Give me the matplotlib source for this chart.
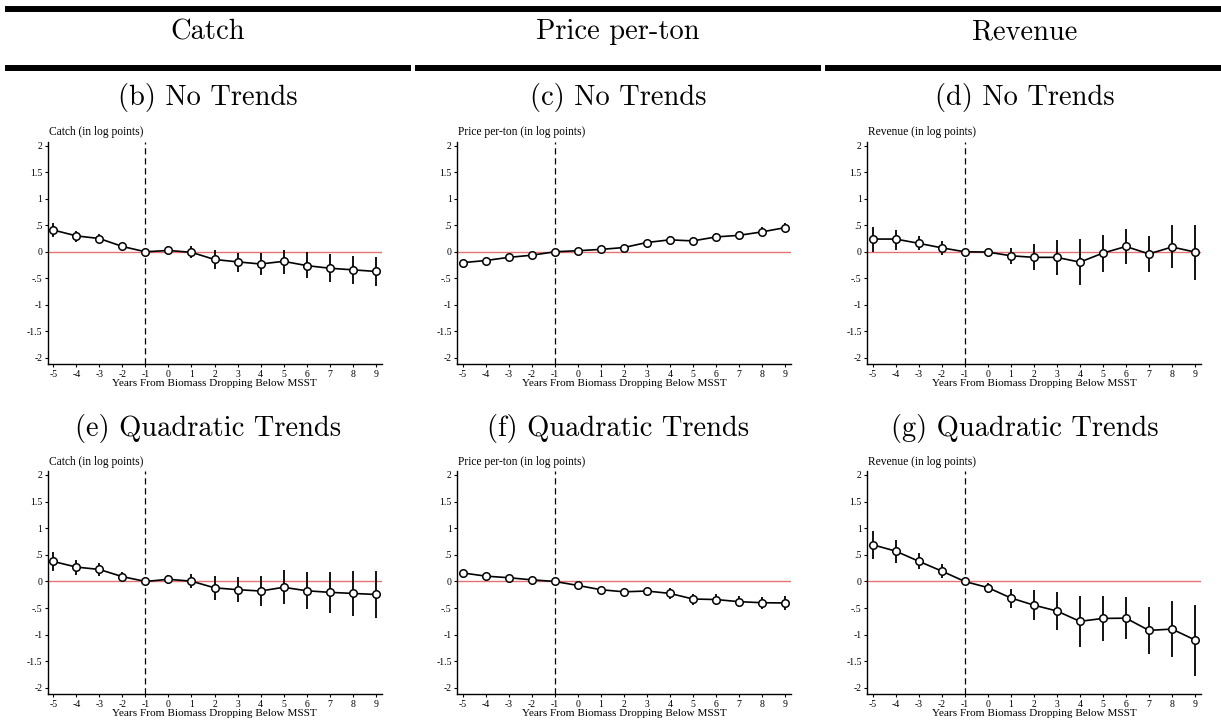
#!/usr/bin/env python
# Event-study panels: catch, price per-ton and revenue around biomass dropping below MSST

import matplotlib
matplotlib.use("Agg")
from matplotlib import pyplot as plt
from matplotlib.lines import Line2D

# event time
years = [-5, -4, -3, -2, -1, 0, 1, 2, 3, 4, 5, 6, 7, 8, 9]

# (b) catch, no trends
catch_nt = [0.41, 0.30, 0.25, 0.10, 0.0, 0.025, -0.01, -0.145, -0.19, -0.23, -0.18, -0.26, -0.31, -0.34, -0.37]
catch_nt_lo = [0.28, 0.19, 0.16, 0.025, 0.0, -0.05, -0.11, -0.32, -0.375, -0.44, -0.41, -0.49, -0.575, -0.61, -0.65]
catch_nt_hi = [0.54, 0.40, 0.34, 0.175, 0.0, 0.10, 0.10, 0.025, -0.02, -0.03, 0.04, -0.01, -0.05, -0.075, -0.09]

# (c) price per-ton, no trends
price_nt = [-0.205, -0.165, -0.105, -0.065, 0.0, 0.02, 0.045, 0.08, 0.175, 0.225, 0.205, 0.28, 0.31, 0.375, 0.455]
price_nt_lo = [-0.25, -0.215, -0.15, -0.105, 0.0, -0.01, 0.01, 0.03, 0.12, 0.155, 0.14, 0.21, 0.24, 0.29, 0.37]
price_nt_hi = [-0.16, -0.115, -0.06, -0.025, 0.0, 0.05, 0.08, 0.13, 0.23, 0.295, 0.27, 0.35, 0.38, 0.46, 0.54]

# (d) revenue, no trends
rev_nt = [0.24, 0.24, 0.16, 0.075, 0.0, -0.005, -0.075, -0.105, -0.105, -0.195, -0.025, 0.10, -0.04, 0.09, -0.005]
rev_nt_lo = [0.0, 0.04, 0.025, -0.06, 0.0, -0.04, -0.23, -0.35, -0.445, -0.625, -0.39, -0.225, -0.39, -0.31, -0.53]
rev_nt_hi = [0.47, 0.42, 0.30, 0.21, 0.0, 0.03, 0.08, 0.14, 0.225, 0.24, 0.325, 0.43, 0.30, 0.50, 0.505]

# (e) catch, quadratic trends
catch_qt = [0.375, 0.27, 0.225, 0.09, 0.0, 0.04, 0.005, -0.12, -0.155, -0.18, -0.11, -0.175, -0.205, -0.225, -0.245]
catch_qt_lo = [0.205, 0.13, 0.10, 0.005, 0.0, -0.055, -0.13, -0.345, -0.395, -0.47, -0.43, -0.52, -0.59, -0.645, -0.68]
catch_qt_hi = [0.545, 0.40, 0.345, 0.175, 0.0, 0.13, 0.145, 0.105, 0.08, 0.105, 0.21, 0.175, 0.175, 0.195, 0.195]

# (f) price per-ton, quadratic trends
price_qt = [0.16, 0.10, 0.07, 0.03, 0.0, -0.075, -0.155, -0.195, -0.18, -0.225, -0.33, -0.34, -0.38, -0.40, -0.405]
price_qt_lo = [0.12, 0.05, 0.03, -0.01, 0.0, -0.11, -0.2, -0.25, -0.235, -0.325, -0.44, -0.445, -0.48, -0.51, -0.54]
price_qt_hi = [0.20, 0.15, 0.11, 0.07, 0.0, -0.04, -0.11, -0.14, -0.125, -0.13, -0.23, -0.235, -0.28, -0.29, -0.275]

# (g) revenue, quadratic trends
rev_qt = [0.69, 0.57, 0.38, 0.195, 0.0, -0.115, -0.31, -0.445, -0.555, -0.75, -0.695, -0.69, -0.92, -0.895, -1.10]
rev_qt_lo = [0.425, 0.355, 0.225, 0.06, 0.0, -0.21, -0.49, -0.72, -0.905, -1.225, -1.115, -1.08, -1.355, -1.425, -1.77]
rev_qt_hi = [0.955, 0.775, 0.54, 0.325, 0.0, -0.03, -0.15, -0.17, -0.205, -0.275, -0.275, -0.295, -0.48, -0.365, -0.45]

column_titles = ['Catch', 'Price per-ton', 'Revenue']
ylabels = ['Catch (in log points)', 'Price per-ton (in log points)', 'Revenue (in log points)']
row_titles = [['(b) No Trends', '(c) No Trends', '(d) No Trends'],
              ['(e) Quadratic Trends', '(f) Quadratic Trends', '(g) Quadratic Trends']]
yticks = [2, 1.5, 1, 0.5, 0, -0.5, -1, -1.5, -2]
ytick_labels = ['2', '1.5', '1', '.5', '0', '-.5', '-1', '-1.5', '-2']
xlabel = 'Years From Biomass Dropping Below MSST'

panels = [[(catch_nt, catch_nt_lo, catch_nt_hi),
           (price_nt, price_nt_lo, price_nt_hi),
           (rev_nt, rev_nt_lo, rev_nt_hi)],
          [(catch_qt, catch_qt_lo, catch_qt_hi),
           (price_qt, price_qt_lo, price_qt_hi),
           (rev_qt, rev_qt_lo, rev_qt_hi)]]

SMALL = 'Liberation Serif'
BIG = 'cmr10'
W, H = 1221, 724

fig = plt.figure(figsize=(W / 100, H / 100), dpi=100)

# axes placement in pixels: left edge of each column, top/bottom of each row
col_left = [48, 457.3, 867.3]
ax_w = 333.7
row_top = [141.7, 471]
row_bot = [364, 694]

for r in range(2):
    for c in range(3):
        est, lo, hi = panels[r][c]
        ax = fig.add_axes([col_left[c] / W, 1 - row_bot[r] / H,
                           ax_w / W, (row_bot[r] - row_top[r]) / H])
        ax.axhline(0, color='#e57373', lw=1.0, zorder=1)
        ax.axvline(-1, color='black', lw=0.9, ls=(0, (5, 3)), zorder=1)
        yerr = [[e - l for e, l in zip(est, lo)], [h - e for e, h in zip(est, hi)]]
        ax.errorbar(years, est, yerr=yerr, fmt='none', ecolor='black',
                    elinewidth=1.3, capsize=0, zorder=2)
        ax.plot(years, est, color='black', lw=1.2, marker='o', ms=5.4,
                mfc='white', mec='black', mew=1.1, zorder=3)
        ax.set_xlim(-5.23, 9.26)
        ax.set_ylim(-2.115, 2.075)
        ax.set_yticks(yticks)
        ax.set_yticklabels(ytick_labels, fontfamily=SMALL, fontsize=7)
        ax.set_xticks(years)
        ax.set_xticklabels([str(y) for y in years], fontfamily=SMALL, fontsize=7)
        ax.tick_params(direction='out', length=2.5, width=0.8, pad=1.5)
        for s in ['top', 'right']:
            ax.spines[s].set_visible(False)
        for s in ['left', 'bottom']:
            ax.spines[s].set_linewidth(1.0)
        ax.set_xlabel(xlabel, fontfamily=SMALL, fontsize=8.1, labelpad=0.5)
        ax.text(0.003, 1.015, ylabels[c], transform=ax.transAxes, ha='left',
                va='bottom', fontfamily=SMALL, fontsize=8.3)

# column headers with rules above and below
col_span = [(8, 407.7), (418.3, 817.7), (828.3, 1221)]
fig.add_artist(Line2D([8 / W, 1.0], [1 - 9 / H, 1 - 9 / H], color='black', lw=4.3))
for c, (x0, x1) in enumerate(col_span):
    fig.add_artist(Line2D([x0 / W, x1 / W], [1 - 68 / H, 1 - 68 / H], color='black', lw=4.3))
    xc = (x0 + x1) / 2 / W
    fig.text(xc, 1 - 32 / H, column_titles[c], ha='center', va='center',
             fontfamily=BIG, fontsize=20.5)
    fig.text(xc, 1 - 98 / H, row_titles[0][c], ha='center', va='center',
             fontfamily=BIG, fontsize=20.5)
    fig.text(xc, 1 - 428 / H, row_titles[1][c], ha='center', va='center',
             fontfamily=BIG, fontsize=20.5)

fig.savefig('out.png', dpi=100)
